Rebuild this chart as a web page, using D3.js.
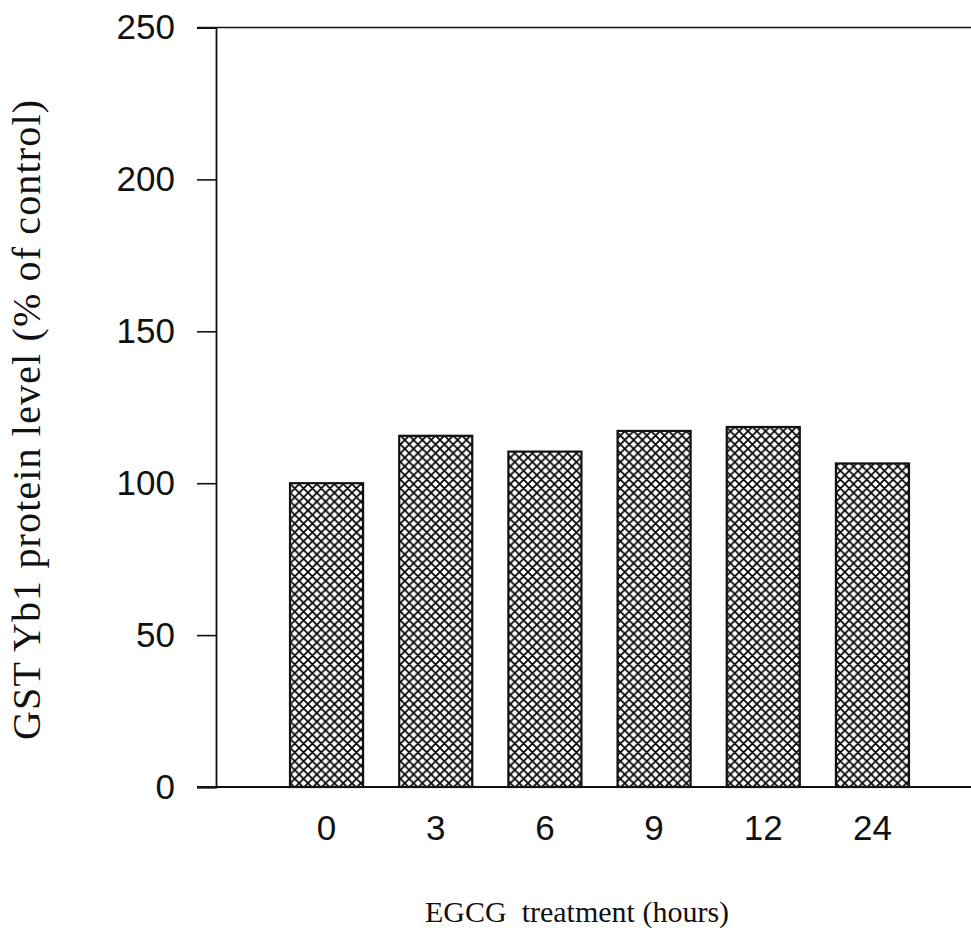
<!DOCTYPE html>
<html>
<head>
<meta charset="utf-8">
<script src="https://cdn.jsdelivr.net/npm/d3@7"></script>
<style>
  html, body { margin: 0; padding: 0; background: #fff; }
  svg { display: block; }
</style>
</head>
<body>
<svg id="chart" width="971" height="946"></svg>
<script>
// EGCG exposure times (hours) and GST Yb1 protein level (% of control)
const hours = ["0", "3", "6", "9", "12", "24"];
const proteinLevel = [100, 115.6, 110.4, 117.2, 118.5, 106.5];
const yTicks = [0, 50, 100, 150, 200, 250];

const svg = d3.select("#chart");
const ink = "#111";

const axisLeftX = 216;
const axisStartX = 197;
const axisEndX = 971;

const y = d3.scaleLinear().domain([0, 250]).range([787, 27.5]);
const x = d3.scaleBand()
  .domain(hours)
  .range([216, 983])
  .paddingInner(0.331)
  .paddingOuter(0.678);

// cross-hatch fill for the bars
const defs = svg.append("defs");
const p = 8.8;
const pat = defs.append("pattern")
  .attr("id", "hatch")
  .attr("patternUnits", "userSpaceOnUse")
  .attr("width", p).attr("height", p);
pat.append("rect").attr("width", p).attr("height", p).attr("fill", "#fff");
pat.append("path")
  .attr("d", `M0,0L${p},${p}M0,${p}L${p},0M${-p/2},${p/2}L${p/2},${-p/2}M${p/2},${p*1.5}L${p*1.5},${p/2}M${-p/2},${p/2}L${p/2},${p*1.5}M${p/2},${-p/2}L${p*1.5},${p/2}`)
  .attr("stroke", "#000").attr("stroke-width", 1.7);

// bars
svg.append("g").selectAll("rect")
  .data(proteinLevel)
  .join("rect")
  .attr("x", (d, i) => x(hours[i]))
  .attr("y", d => y(d))
  .attr("width", x.bandwidth())
  .attr("height", d => y(0) - y(d))
  .attr("fill", "url(#hatch)")
  .attr("stroke", ink)
  .attr("stroke-width", 2.2);

// y axis
const yAxis = svg.append("g")
  .attr("transform", `translate(${axisLeftX},0)`)
  .call(d3.axisLeft(y).tickValues(yTicks).tickSize(axisLeftX - axisStartX).tickPadding(22));
yAxis.select(".domain").attr("stroke", ink).attr("stroke-width", 1.8);
yAxis.selectAll(".tick line").attr("stroke", ink).attr("stroke-width", 1.6);
yAxis.selectAll(".tick text")
  .attr("font-family", "'Liberation Sans', Arial, sans-serif")
  .attr("font-size", 35)
  .attr("fill", "#111");

// frame lines at top and bottom
svg.append("line")
  .attr("x1", axisStartX).attr("x2", axisEndX)
  .attr("y1", y(250)).attr("y2", y(250))
  .attr("stroke", ink).attr("stroke-width", 1.6);
svg.append("line")
  .attr("x1", axisStartX).attr("x2", axisEndX)
  .attr("y1", y(0)).attr("y2", y(0))
  .attr("stroke", ink).attr("stroke-width", 1.8);

// x tick labels
const xAxis = svg.append("g")
  .attr("transform", `translate(0,${y(0)})`)
  .call(d3.axisBottom(x).tickSize(0).tickPadding(28));
xAxis.select(".domain").remove();
xAxis.selectAll(".tick text")
  .attr("font-family", "'Liberation Sans', Arial, sans-serif")
  .attr("font-size", 35)
  .attr("fill", "#111");

// axis titles
svg.append("text")
  .attr("x", 425).attr("y", 922)
  .attr("font-family", "'Liberation Serif', 'Times New Roman', serif")
  .attr("font-size", 30)
  .attr("fill", "#111")
  .style("white-space", "pre")
  .text("EGCG  treatment (hours)");

svg.append("text")
  .attr("transform", "translate(40,420) rotate(-90)")
  .attr("text-anchor", "middle")
  .attr("font-family", "'Liberation Serif', 'Times New Roman', serif")
  .attr("font-size", 40)
  .attr("fill", "#111")
  .attr("textLength", 640)
  .attr("lengthAdjust", "spacing")
  .text("GST Yb1 protein level (% of control)");
</script>
</body>
</html>
